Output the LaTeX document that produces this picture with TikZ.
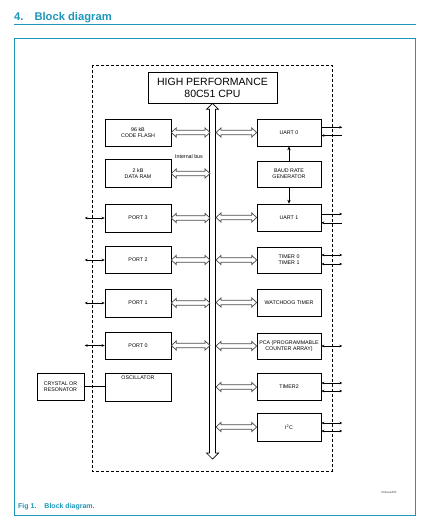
\documentclass[tikz,border=0pt]{standalone}
\usepackage{fontspec}
\setmainfont{Liberation Sans}
\usetikzlibrary{arrows.meta,calc}
\definecolor{nxpteal}{RGB}{30,150,185}
% hollow double-headed horizontal arrow from #1 (left) to #2 (right)
\newcommand\holarrow[2]{%
  \path (#1) coordinate (haA);
  \path (#2) coordinate (haB);
  \draw[holo] let \p1=(haA), \p2=(haB) in
    (\x1,\y1) -- (\x1+5pt,\y1+4.6pt) -- (\x1+5pt,\y1+2.3pt) -- (\x2-5pt,\y1+2.3pt)
    -- (\x2-5pt,\y1+4.6pt) -- (\x2,\y1) -- (\x2-5pt,\y1-4.6pt) -- (\x2-5pt,\y1-2.3pt)
    -- (\x1+5pt,\y1-2.3pt) -- (\x1+5pt,\y1-4.6pt) -- cycle;}
\begin{document}
\begin{tikzpicture}[x=1pt,y=-1pt,
  blk/.style={draw,line width=0.6pt,inner sep=0pt,align=center,
    font=\fontsize{5.3}{6.2}\selectfont},
  lblk/.style={blk,minimum width=66pt,minimum height=27pt},
  rblk/.style={blk,minimum width=64pt,minimum height=27pt},
  holo/.style={draw=black!70,line width=0.7pt,fill=white,line join=miter},
  sig/.style={line width=0.5pt,>={Stealth[length=3pt,width=2.6pt]}},
  bsig/.style={line width=0.6pt,>={Stealth[length=4pt,width=3.4pt]}},
  small/.style={font=\fontsize{5.3}{6.2}\selectfont}]
\useasboundingbox (0,0) rectangle (432,528);
% header
\node[anchor=base west,inner sep=0pt,text=nxpteal,font=\fontsize{11.2}{13}\selectfont\bfseries] (title) at (14,20) {4.\hspace{11pt}Block diagram};
\draw[nxpteal,line width=0.9pt] (14,24.5) -- (416,24.5);
\draw[nxpteal,line width=0.9pt] (14,38) rectangle (415,515);
% dashed boundary
\draw[dashed,line width=0.6pt,dash pattern=on 3pt off 2pt] (92,65) rectangle (332,471);
% CPU
\node[draw,line width=0.6pt,minimum width=129pt,minimum height=31pt,inner sep=0pt,align=center,
  font=\fontsize{10.5}{12}\selectfont] (cpu) at (212.5,87.5) {HIGH PERFORMANCE\\80C51 CPU};
% bus
\coordinate (busL) at (210,0);
\coordinate (busR) at (216,0);
\coordinate (busend) at (213,459);
\draw[draw=black,line width=0.7pt,fill=white,line join=miter] let \p1=(cpu.south), \p2=(busend) in
  (\x1,\y1) -- (\x1+6pt,\y1-6pt) -- (\x1+3pt,\y1-6pt) -- (\x1+3pt,\y2+6pt) -- (\x1+6pt,\y2+6pt)
  -- (\x1,\y2) -- (\x1-6pt,\y2+6pt) -- (\x1-3pt,\y2+6pt) -- (\x1-3pt,\y1-6pt) -- (\x1-6pt,\y1-6pt) -- cycle;
% left blocks
\node[lblk] (flash) at (138,132.5) {96 kB\\CODE FLASH};
\node[lblk,minimum height=28pt] (ram) at (138,173.5) {2 kB\\DATA RAM};
\node[lblk,minimum height=28pt] (p3) at (138,218) {PORT 3};
\node[lblk] (p2) at (138,260) {PORT 2};
\node[lblk,minimum height=28pt] (p1) at (138,303) {PORT 1};
\node[lblk] (p0) at (138,345.5) {PORT 0};
\node[lblk,minimum height=28pt,label={[small,anchor=north,inner sep=0pt]north:{\raisebox{-7pt}{OSCILLATOR}}}] (osc) at (138,387) {};
\node[blk,minimum width=47pt,minimum height=27pt] (xtal) at (60.5,386.5) {CRYSTAL OR\\RESONATOR};
\draw[line width=0.6pt] (xtal.east) -- (osc.west |- xtal.east);
\node[small,inner sep=0pt] (ibus) at (189,157) {Internal bus};
% right blocks
\node[rblk] (uart0) at (289,132.5) {UART 0};
\node[rblk,minimum height=26pt] (baud) at (289,174) {BAUD RATE\\GENERATOR};
\node[rblk] (uart1) at (289,217.5) {UART 1};
\node[rblk,minimum height=26pt] (tmr) at (289,260) {TIMER 0\\TIMER 1};
\node[rblk] (wdt) at (289,302.5) {WATCHDOG TIMER};
\node[rblk,minimum height=26pt] (pca) at (289,346) {PCA (PROGRAMMABLE\\COUNTER ARRAY)};
\node[rblk] (tmr2) at (289,387) {TIMER2};
\node[rblk,minimum height=28pt] (i2c) at (289,427) {I\textsuperscript{2}C};
% hollow arrows to bus
\holarrow{flash.east}{flash.east -| busL}
\holarrow{ram.east}{ram.east -| busL}
\holarrow{p3.east}{p3.east -| busL}
\holarrow{p2.east}{p2.east -| busL}
\holarrow{p1.east}{p1.east -| busL}
\holarrow{p0.east}{p0.east -| busL}
\holarrow{uart0.west -| busR}{uart0.west}
\holarrow{uart1.west -| busR}{uart1.west}
\holarrow{tmr.west -| busR}{tmr.west}
\holarrow{wdt.west -| busR}{wdt.west}
\holarrow{pca.west -| busR}{pca.west}
\holarrow{tmr2.west -| busR}{tmr2.west}
\holarrow{i2c.west -| busR}{i2c.west}
% baud rate generator
\draw[bsig,->] (baud.north) -- (uart0.south);
\draw[bsig,->] (baud.south) -- (uart1.north);
% port pins
\foreach \n in {p3,p2,p1,p0}{
  \draw[sig,<->] (\n.west) -- ++(-20,0);
}
% right pins
\draw[sig,->] ($(uart0.east)+(0,-5.2)$) -- ++(21,0);
\draw[sig,<-] ($(uart0.east)+(0,3)$) -- ++(21,0);
\draw[sig,->] ($(uart1.east)+(0,-3.5)$) -- ++(21,0);
\draw[sig,<-] ($(uart1.east)+(0,5.3)$) -- ++(21,0);
\draw[sig,<->] ($(tmr.east)+(0,-5)$) -- ++(21,0);
\draw[sig,<->] ($(tmr.east)+(0,4)$) -- ++(21,0);
\draw[sig,<->] (pca.east) -- ++(21,0);
\draw[sig,<->] ($(tmr2.east)+(0,-4)$) -- ++(21,0);
\draw[sig,<->] ($(tmr2.east)+(0,4)$) -- ++(21,0);
\draw[sig,<->] ($(i2c.east)+(0,-4)$) -- ++(21,0);
\draw[sig,<->] ($(i2c.east)+(0,4)$) -- ++(21,0);
% footer
\node[anchor=west,inner sep=0pt,text=nxpteal,font=\fontsize{7}{8}\selectfont\bfseries] (cap) at (18,507) {Fig 1.\hspace{8pt}Block diagram.};
\node[inner sep=0pt,text=black!70,font=\fontsize{3}{4}\selectfont] (code) at (389,492) {002aaa405};
\end{tikzpicture}
\end{document}
